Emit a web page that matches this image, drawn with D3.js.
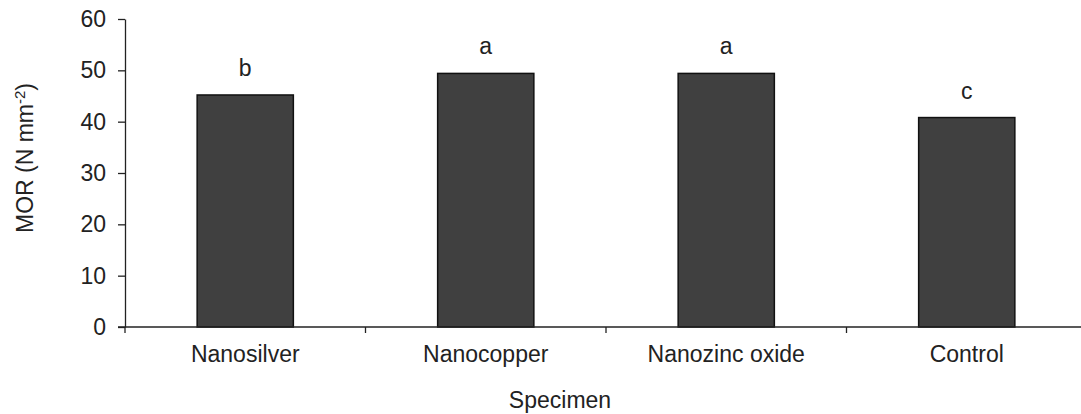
<!DOCTYPE html>
<html>
<head>
<meta charset="utf-8">
<script src="https://cdn.jsdelivr.net/npm/d3@7"></script>
<style>
  html, body { margin: 0; padding: 0; background: #fff; }
  text { font-family: "Liberation Sans", Arial, sans-serif; fill: #222; }
</style>
</head>
<body>
<div id="chart"></div>
<script>
const categories = ['Nanosilver', 'Nanocopper', 'Nanozinc oxide', 'Control'];
const values = [45.2, 49.4, 49.4, 40.8];
const letters = ['b', 'a', 'a', 'c'];
const yTicks = [0, 10, 20, 30, 40, 50, 60];

const width = 1081, height = 414;
const margin = { top: 19, right: -6, bottom: 87, left: 125 };
const fs = 23;

const svg = d3.select('#chart')
  .append('svg')
  .attr('width', width)
  .attr('height', height);

const x = d3.scaleBand()
  .domain(categories)
  .range([margin.left, width - margin.right])
  .padding(0);

const y = d3.scaleLinear()
  .domain([0, 60])
  .range([height - margin.bottom, margin.top]);

const barW = x.bandwidth() * 0.4;

// bars
svg.append('g')
  .selectAll('rect')
  .data(categories)
  .join('rect')
  .attr('x', d => x(d) + (x.bandwidth() - barW) / 2)
  .attr('y', (d, i) => y(values[i]))
  .attr('width', barW)
  .attr('height', (d, i) => y(0) - y(values[i]))
  .attr('fill', '#404040')
  .attr('stroke', '#111')
  .attr('stroke-width', 1.5);

// significance letters
svg.append('g')
  .selectAll('text')
  .data(categories)
  .join('text')
  .attr('x', d => x(d) + x.bandwidth() / 2)
  .attr('y', (d, i) => y(values[i]) - 19)
  .attr('text-anchor', 'middle')
  .style('font-size', fs + 'px')
  .text((d, i) => letters[i]);

// y axis
const yAxis = svg.append('g')
  .attr('transform', `translate(${margin.left},0)`)
  .call(d3.axisLeft(y).tickValues(yTicks).tickSize(7).tickPadding(12).tickSizeOuter(0));
yAxis.selectAll('text').style('font-size', fs + 'px').attr('fill', '#222');
yAxis.selectAll('line, path').attr('stroke', '#222').attr('stroke-width', 1.3);

// x axis line with ticks at band boundaries
const xg = svg.append('g');
xg.append('line')
  .attr('x1', margin.left - 7).attr('x2', width)
  .attr('y1', y(0)).attr('y2', y(0))
  .attr('stroke', '#222').attr('stroke-width', 1.3);
xg.selectAll('.tk')
  .data(categories)
  .join('line')
  .attr('class', 'tk')
  .attr('x1', d => x(d)).attr('x2', d => x(d))
  .attr('y1', y(0)).attr('y2', y(0) + 6)
  .attr('stroke', '#222').attr('stroke-width', 1.3);
xg.selectAll('text')
  .data(categories)
  .join('text')
  .attr('x', d => x(d) + x.bandwidth() / 2)
  .attr('y', y(0) + 35)
  .attr('text-anchor', 'middle')
  .style('font-size', fs + 'px')
  .text(d => d);

// axis titles
svg.append('text')
  .attr('x', 560)
  .attr('y', 408)
  .attr('text-anchor', 'middle')
  .style('font-size', fs + 'px')
  .text('Specimen');

const yt = svg.append('text')
  .attr('transform', `translate(33,158) rotate(-90)`)
  .attr('text-anchor', 'middle')
  .style('font-size', fs + 'px');
yt.append('tspan').text('MOR (N mm');
yt.append('tspan').attr('dy', -8).style('font-size', '15px').text('-2');
yt.append('tspan').attr('dy', 8).text(')');
</script>
</body>
</html>
